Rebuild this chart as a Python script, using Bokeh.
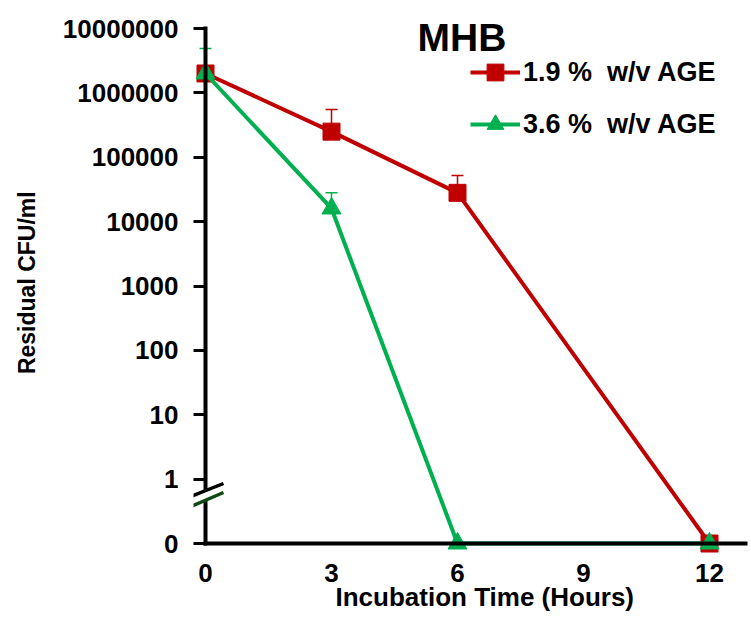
import math
from bokeh.plotting import figure
from bokeh.models import (Range1d, FixedTicker, ColumnDataSource, Whisker, TeeHead,
                          Legend, LegendItem, Label, Title)
from bokeh.embed import file_html
from bokeh.resources import INLINE

# ---------------- data ----------------
hours = [0, 3, 6, 12]
cfu_19 = [2000000, 250000, 28000, 0]      # 1.9 % w/v AGE
sd_19 = [400000, 300000, 24000, 0]
cfu_36 = [2000000, 16000, 0, 0]           # 3.6 % w/v AGE
sd_36 = [2900000, 12000, 0, 0]
series_labels = ["1.9 %  w/v AGE", "3.6 %  w/v AGE"]
x_ticks = [0, 3, 6, 9, 12]
y_tick_values = [0, 1, 10, 100, 1000, 10000, 100000, 1000000, 10000000]
y_tick_labels = ["0", "1", "10", "100", "1000", "10000", "100000", "1000000", "10000000"]
title_text = "MHB"
x_title = "Incubation Time (Hours)"
y_title = "Residual  CFU/ml"

RED = "#C00000"
GREEN = "#00B050"
DKGREEN = "#0E4A12"
FONT = "Liberation Sans"

ZERO_POS = 0.1   # where "0" sits on the broken log axis


def disp(v):
    return v if v > 0 else ZERO_POS


# geometry
PX_X = 42.0          # px per hour
PX_DEC = 64.375      # px per decade
W, H = 750, 630
BL, BR, BT, BB = 193, 3, 3, 75
PAD_L = 12           # px between frame left and x = 0
PAD_B = 12           # px between frame bottom and the "0" level
PAD_T = 25           # px between frame top and the top tick
frame_w = W - BL - BR
frame_h = H - BT - BB
x0 = -PAD_L / PX_X
x1 = x0 + frame_w / PX_X
y_top_tick = max(y_tick_values)
y_top = 10 ** (math.log10(y_top_tick) + PAD_T / PX_DEC)
y_bot = 10 ** (math.log10(ZERO_POS) - PAD_B / PX_DEC)


def ylog(px_from_zero):
    return 10 ** (math.log10(ZERO_POS) + px_from_zero / PX_DEC)


p = figure(width=W, height=H, x_range=Range1d(x0, x1), y_range=Range1d(y_bot, y_top),
           y_axis_type="log", output_backend="svg", toolbar_location=None,
           min_border_left=BL, min_border_right=BR, min_border_top=BT, min_border_bottom=BB)
p.xgrid.visible = False
p.ygrid.visible = False
p.outline_line_color = None

# x axis (labels only; line drawn at the zero level below)
p.xaxis.ticker = FixedTicker(ticks=x_ticks)
p.xaxis.axis_line_color = None
p.xaxis.major_tick_line_color = None
p.xaxis.minor_tick_line_color = None
p.xaxis.major_label_text_font = FONT
p.xaxis.major_label_text_font_size = "26px"
p.xaxis.major_label_text_font_style = "bold"
p.xaxis.major_label_text_color = "black"
p.xaxis.major_label_standoff = 2

# y axis
yt = [disp(v) for v in y_tick_values]
p.yaxis.ticker = FixedTicker(ticks=yt)
p.yaxis.major_label_overrides = {t: lab for t, lab in zip(yt, y_tick_labels)}
p.yaxis.axis_line_color = None
p.yaxis.major_tick_line_color = "black"
p.yaxis.major_tick_line_width = 3
p.yaxis.major_tick_in = PAD_L
p.yaxis.major_tick_out = 0
p.yaxis.minor_tick_line_color = None
p.yaxis.major_label_text_font = FONT
p.yaxis.major_label_text_font_size = "26px"
p.yaxis.major_label_text_font_style = "bold"
p.yaxis.major_label_text_color = "black"
p.yaxis.major_label_standoff = 15
p.yaxis.axis_label = y_title
p.yaxis.axis_label_text_font = FONT
p.yaxis.axis_label_text_font_size = "23px"
p.yaxis.axis_label_text_font_style = "bold"
p.yaxis.axis_label_text_color = "black"
p.yaxis.axis_label_standoff = 20

# x title
p.add_layout(Title(text=x_title, align="left", offset=142, standoff=-9,
                   text_font=FONT, text_font_size="26px", text_font_style="bold",
                   text_color="black"), "below")

# error bars (beneath markers)
for vals, sds, col in [(cfu_19, sd_19, RED), (cfu_36, sd_36, GREEN)]:
    xs = [h for h, v, s in zip(hours, vals, sds) if s > 0]
    lo = [v for v, s in zip(vals, sds) if s > 0]
    up = [v + s for v, s in zip(vals, sds) if s > 0]
    src = ColumnDataSource(dict(x=xs, lower=lo, upper=up))
    w = Whisker(source=src, base="x", lower="lower", upper="upper", dimension="height",
                line_color=col, line_width=1.5, level="underlay",
                upper_head=TeeHead(size=12, line_color=col, line_width=1.5), lower_head=None)
    p.add_layout(w)

# series
d19 = [disp(v) for v in cfu_19]
d36 = [disp(v) for v in cfu_36]
r1l = p.line(hours, d19, line_color=RED, line_width=4)
r1m = p.scatter(hours, d19, marker="square", size=17, fill_color=RED, line_color=RED)
r2l = p.line(hours, d36, line_color=GREEN, line_width=4)
r2m = p.scatter(hours, d36, marker="triangle", size=19, fill_color=GREEN, line_color=GREEN)

# axis lines at x = 0 and at the "0" level
p.segment(x0=[0, 0], y0=[ZERO_POS, ZERO_POS], x1=[0, x1], y1=[y_top_tick, ZERO_POS],
          line_color="black", line_width=4, line_cap="square")

# axis break marks (decoration)
bx0, bx1 = -17 / PX_X, 18 / PX_X
p.segment(x0=[bx0], y0=[ylog(41)], x1=[bx1], y1=[ylog(55.5)], line_color="white", line_width=7)
p.segment(x0=[bx0, bx0], y0=[ylog(46), ylog(36)], x1=[bx1, bx1], y1=[ylog(60), ylog(51)],
          line_color=["black", DKGREEN], line_width=3.5)

# legend
legend = Legend(items=[LegendItem(label=series_labels[0], renderers=[r1l, r1m]),
                       LegendItem(label=series_labels[1], renderers=[r2l, r2m])],
                location=(277, 410), glyph_width=50, glyph_height=42, label_height=42,
                spacing=10, padding=5, margin=0, label_standoff=3,
                border_line_color=None, background_fill_alpha=0,
                label_text_font=FONT, label_text_font_style="bold",
                label_text_font_size="27px", label_text_color="black")
p.add_layout(legend)

# panel title inside the frame
p.add_layout(Label(x=(461.5 - 205) / PX_X, y=ylog(543 - 37), text=title_text,
                   text_align="center", text_baseline="alphabetic",
                   text_font=FONT, text_font_size="39px", text_font_style="bold",
                   text_color="black"))

open("out.html", "w").write(file_html(p, INLINE))
